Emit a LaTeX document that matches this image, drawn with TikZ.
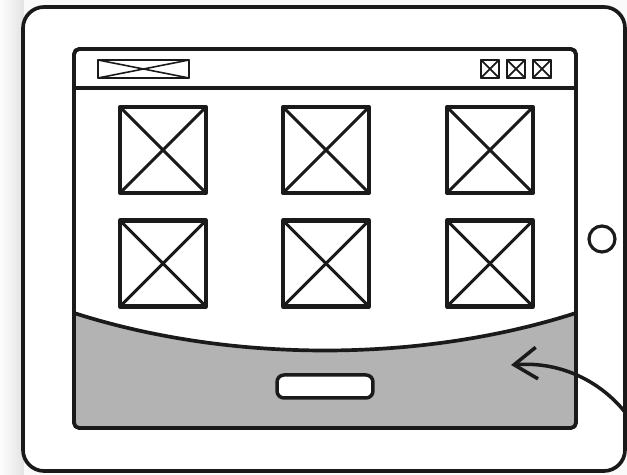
\documentclass[tikz,border=0pt]{standalone}
\usetikzlibrary{arrows.meta,positioning,calc}
\definecolor{panel-grey}{RGB}{179,179,179}
\definecolor{ink}{RGB}{26,26,26}

\begin{document}
\begin{tikzpicture}[x=0.02cm, y=-0.02cm, line join=round, line cap=round,
	   frame/.style={draw=ink, line width=2.1pt},
	   pic/.style={draw=ink, line width=2.3pt, minimum width=1.72cm, minimum height=1.72cm, inner sep=0pt, outer sep=0pt},
	   cross/.style={draw=ink, line width=1.7pt, shorten <=0.8pt, shorten >=0.8pt},
	   small/.style={draw=ink, line width=1.5pt, minimum width=0.36cm, minimum height=0.36cm, inner sep=0pt, outer sep=0pt}]
	  \useasboundingbox (0,0) rectangle (627,475);
	  % soft shadow left of the tablet
	  \fill[black!2] (0,0) rectangle (627,475);
	  \shade[left color=black!1, right color=black!11] (0,0) rectangle (24,475);
	  % tablet body
	  \draw[frame, fill=white, rounded corners=12pt] (23,7) rectangle (625,471);
	  \node[draw=ink, line width=1.8pt, circle, minimum size=0.52cm, inner sep=0pt] (home) at (602,239) {};
	  % screen
	  \draw[frame, fill=white, rounded corners=3pt] (74,49) rectangle (576,428);
	  \fill[panel-grey] (74,313) .. controls (230,363) and (420,363) .. (576,313) -- (576,428) -- (74,428) -- cycle;
	  \draw[frame] (74,313) .. controls (230,363) and (420,363) .. (576,313);
	  \draw[frame, rounded corners=3pt] (74,49) rectangle (576,428);
	  \draw[frame] (74,88) -- (576,88);
	  % title bar
	  \node[draw=ink, line width=1.2pt, minimum width=1.82cm, minimum height=0.36cm, inner sep=0pt, outer sep=0pt] (logo) at (143.5,69) {};
	  \draw[ink, line width=0.9pt] (logo.north west) -- (logo.south east) (logo.south west) -- (logo.north east);
	  \foreach \x/\n in {490/min,516/max,542/close} {
	    \node[small] (btn-\n) at (\x,69) {};
	    \draw[ink, line width=1pt] (btn-\n.north west) -- (btn-\n.south east) (btn-\n.south west) -- (btn-\n.north east);
	  }
	  % image grid
	  \foreach \x/\c in {163/a,326/b,490/c} {
	    \foreach \y/\r in {150/1,263.5/2} {
	      \node[pic] (img-\c\r) at (\x,\y) {};
	      \draw[cross] (img-\c\r.north west) -- (img-\c\r.south east);
	      \draw[cross] (img-\c\r.south west) -- (img-\c\r.north east);
	    }
	  }
	  % bottom panel
	  \node[draw=ink, line width=2pt, fill=white, rounded corners=4pt, minimum width=1.92cm, minimum height=0.46cm] (ok) at (325,386.5) {};
	  \coordinate (tail) at (628,416);
	  \coordinate (tip) at (511,365);
	  \draw[ink, line width=2pt, -{Straight Barb[length=13pt, width=18pt]}] (tail) .. controls (605,385) and (565,361) .. (tip);
	\end{tikzpicture}
\end{document}
